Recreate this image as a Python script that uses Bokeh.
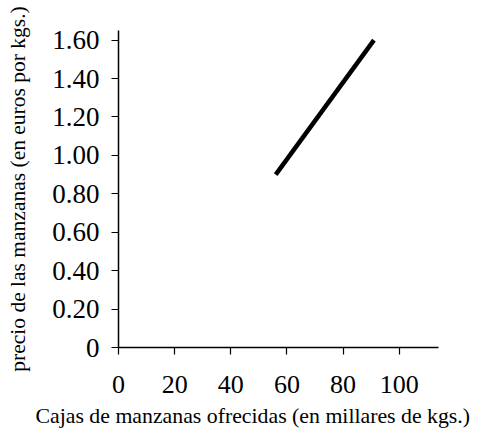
from bokeh.plotting import figure
from bokeh.models import Range1d, FixedTicker, Title
from bokeh.embed import file_html
from bokeh.resources import INLINE

# Data
supply_qty = [56, 91]          # cajas (miles de kgs.)
supply_price = [0.90, 1.60]    # euros por kg

x_ticks = [0, 20, 40, 60, 80, 100]
x_tick_labels = ["0", "20", "40", "60", "80", "100"]
y_ticks = [0, 0.2, 0.4, 0.6, 0.8, 1.0, 1.2, 1.4, 1.6]
y_tick_labels = ["0", "0.20", "0.40", "0.60", "0.80", "1.00", "1.20", "1.40", "1.60"]

x_title = "Cajas de manzanas ofrecidas (en millares de kgs.)"
y_title = "precio de las manzanas (en euros por kgs.)"

FONT = "Liberation Serif"

p = figure(width=477, height=433, output_backend="svg", toolbar_location=None,
           x_range=Range1d(0, 114), y_range=Range1d(0, 1.65),
           min_border_left=118, min_border_right=39, min_border_top=30, min_border_bottom=86)

p.line(supply_qty, supply_price, line_color="black", line_width=4.5)

p.grid.visible = False
p.outline_line_color = None
p.background_fill_color = "white"
p.border_fill_color = "white"

p.xaxis.ticker = FixedTicker(ticks=x_ticks)
p.xaxis.major_label_overrides = {t: l for t, l in zip(x_ticks, x_tick_labels)}
p.yaxis.ticker = FixedTicker(ticks=y_ticks)
p.yaxis.major_label_overrides = {t: l for t, l in zip(y_ticks, y_tick_labels)}

for ax in (p.xaxis, p.yaxis):
    ax.axis_line_color = "black"
    ax.axis_line_width = 1.5
    ax.major_tick_line_color = "black"
    ax.major_tick_line_width = 1.2
    ax.major_tick_out = 7
    ax.major_tick_in = 0
    ax.minor_tick_line_color = None
    ax.major_label_text_font = FONT
    ax.major_label_text_color = "black"
    ax.axis_label_text_font = FONT
    ax.axis_label_text_font_style = "normal"
    ax.axis_label_text_color = "black"

p.xaxis.major_label_text_font_size = "26px"
p.yaxis.major_label_text_font_size = "27px"
p.xaxis.major_label_standoff = 21
p.yaxis.major_label_standoff = 12

p.yaxis.axis_label = y_title
p.yaxis.axis_label_text_font_size = "21.5px"
p.yaxis.axis_label_standoff = 19

p.add_layout(Title(text=x_title, align="left", offset=-83, standoff=12,
                   text_font=FONT, text_font_size="21.8px",
                   text_font_style="normal", text_color="black"), "below")

open("out.html", "w").write(file_html(p, INLINE))
